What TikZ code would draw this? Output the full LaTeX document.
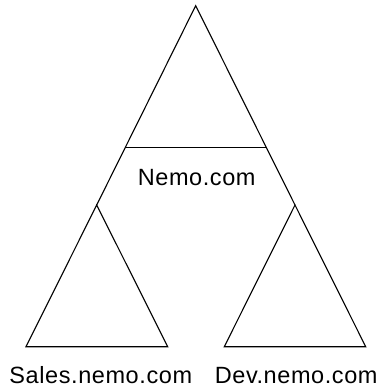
\documentclass[tikz,border=0pt]{standalone}
\usepackage{fontspec}
\setmainfont{Liberation Sans}[LetterSpace=2.5]
\begin{document}
\begin{tikzpicture}[x=1pt,y=-1pt,line width=1.1pt,line join=miter,
  lbl/.style={anchor=base,inner sep=0pt,font=\fontsize{23.5}{28}\selectfont}]
\useasboundingbox (0,0) rectangle (380,389);
\coordinate (apex) at (195.7,5.7);
\coordinate (la) at (96.7,205);
\coordinate (ra) at (295,205);
\coordinate (hl) at (125.7,147.3);
\coordinate (hr) at (266.7,147.3);
\draw (la) -- (apex) -- (ra);
\draw (hl) -- (hr);
\draw (la) -- (26,346.7) -- (167.7,346.7) -- cycle;
\draw (ra) -- (224.3,346.7) -- (365.7,346.7) -- cycle;
\node[lbl] (nemo) at (196.7,185) {Nemo.com};
\node[lbl] (sales) at (100.8,383.3) {Sales.nemo.com};
\node[lbl] (dev) at (296.2,383.3) {Dev.nemo.com};
\end{tikzpicture}
\end{document}
